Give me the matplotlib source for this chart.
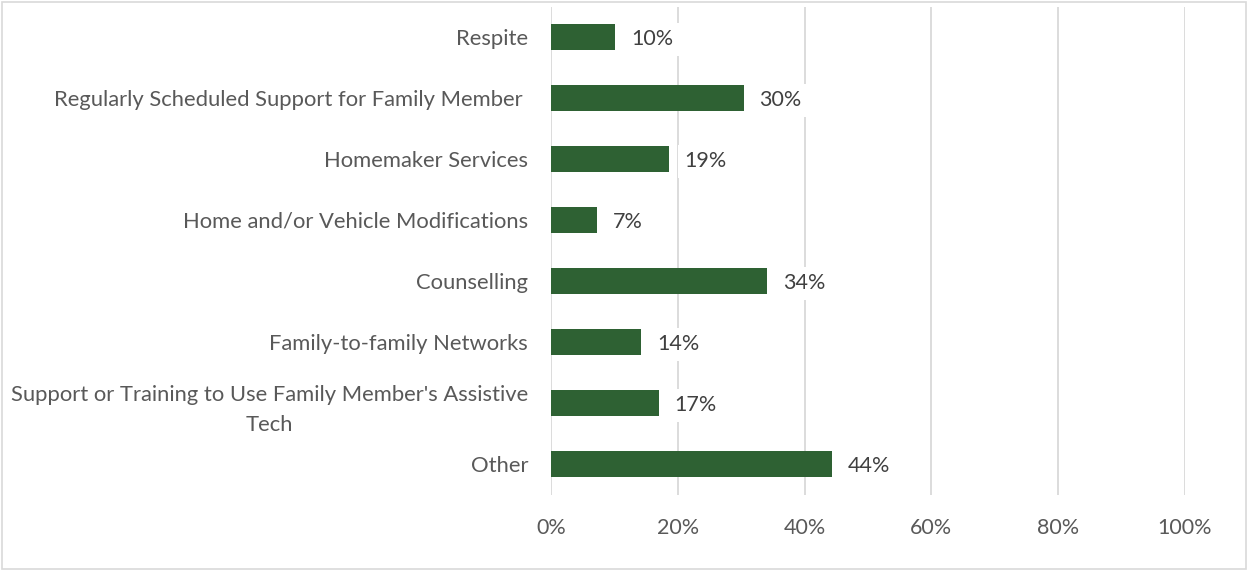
import matplotlib.pyplot as plt
from matplotlib.patches import Rectangle

categories = [
    "Respite",
    "Regularly Scheduled Support for Family Member ",
    "Homemaker Services",
    "Home and/or Vehicle Modifications",
    "Counselling",
    "Family-to-family Networks",
    "Support or Training to Use Family Member's Assistive\nTech",
    "Other",
]
values = [10.1, 30.4, 18.6, 7.3, 34.1, 14.2, 17.0, 44.3]
labels = ["10%", "30%", "19%", "7%", "34%", "14%", "17%", "44%"]
xticks = [0, 20, 40, 60, 80, 100]

plt.rcParams['font.family'] = ['Lato', 'DejaVu Sans']

fig = plt.figure(figsize=(12.48, 5.71), dpi=100)
ax = fig.add_axes([551 / 1248, 1 - 494.5 / 571, (1185 - 551) / 1248, 488 / 571])

ypos = list(range(len(categories)))
ax.barh(ypos, values, height=0.41, color='#2E6133', zorder=3)
for y, v, lab in zip(ypos, values, labels):
    ax.text(v + 2.5, y + 0.04, lab, va='center', ha='left', fontsize=15.5, color='#404040',
            bbox=dict(facecolor='white', edgecolor='none', pad=5), zorder=4)

ax.set_xlim(0, 100)
ax.set_ylim(len(categories) - 0.5, -0.5)
ax.set_xticks(xticks)
ax.set_xticklabels([f"{t}%" for t in xticks], fontsize=15.5, color='#595959')
ax.set_yticks(ypos)
ax.set_yticklabels(categories, fontsize=15.8, color='#595959', ha='right',
                   multialignment='center', linespacing=1.6)
ax.tick_params(axis='y', length=0, pad=16.5)
ax.tick_params(axis='x', length=0, pad=17)
ax.xaxis.grid(True, color='#D9D9D9', linewidth=1.3, zorder=0)
for s in ax.spines.values():
    s.set_visible(False)

fig.patches.append(Rectangle((0.0015, 0.003), 0.997, 0.994, transform=fig.transFigure,
                             fill=False, edgecolor='#D9D9D9', linewidth=1.2))

fig.savefig('out.png', dpi=100)
